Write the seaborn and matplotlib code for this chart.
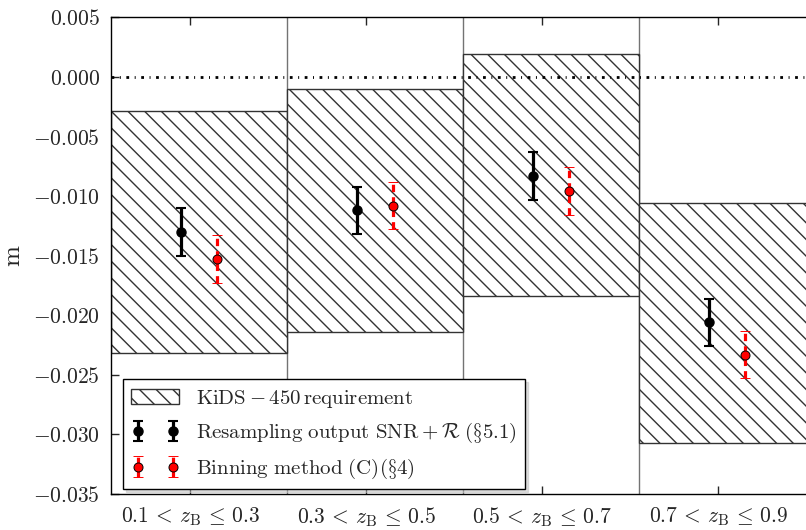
import numpy as np
import seaborn as sns
from matplotlib import pyplot as plt

# redshift bins
bin_labels = [r'$0.1 \,<\, z_{\rm B} \,\leq\, 0.3$', r'$0.3 \,<\, z_{\rm B} \,\leq\, 0.5$',
              r'$0.5 \,<\, z_{\rm B} \,\leq\, 0.7$', r'$0.7 \,<\, z_{\rm B} \,\leq\, 0.9$']

# KiDS-450 requirement band per bin
req_upper = [-0.0029, -0.00105, 0.0019, -0.0106]
req_lower = [-0.0232, -0.0214, -0.0184, -0.0307]

# resampling output SNR + R
m_resamp = [-0.0130, -0.0112, -0.0083, -0.0206]
err_resamp = [0.002, 0.002, 0.002, 0.002]

# binning method (C)
m_binning = [-0.0153, -0.0108, -0.0096, -0.0233]
err_binning = [0.002, 0.002, 0.002, 0.002]

sns.set_style('ticks')
plt.rcParams['font.family'] = 'serif'
plt.rcParams['font.serif'] = ['cmr10', 'DejaVu Serif']
plt.rcParams['mathtext.fontset'] = 'cm'
plt.rcParams['axes.formatter.use_mathtext'] = True
plt.rcParams['hatch.linewidth'] = 1.0

fig = plt.figure(figsize=(8.06, 5.30), dpi=100)
ax = fig.add_axes([0.1377, 0.0679, 0.8734, 0.8994])

idx = np.arange(len(bin_labels))
lo = np.array(req_lower)
hi = np.array(req_upper)

ax.bar(idx, hi - lo, bottom=lo, width=1.0, align='edge', color='white',
       edgecolor='0.2', linewidth=1.0, hatch='\\\\',
       label=r'$\mathrm{KiDS} - 450\,\mathrm{requirement}$', zorder=1)
for b in idx[1:]:
    ax.axvline(b, color='0.45', lw=1.0, zorder=0.5)

ax.axhline(0, color='k', lw=2, linestyle=(0, (1, 2, 0.35, 2)), zorder=2)

ax.errorbar(idx + 0.4, m_resamp, yerr=err_resamp, fmt='o', color='k',
            ms=6.5, elinewidth=2.3, capsize=3.5, capthick=1.5, zorder=4,
            label=r'$\mathrm{Resampling\ output\ SNR} + \mathcal{R}\ (\S5.1)$')
eb = ax.errorbar(idx + 0.6, m_binning, yerr=err_binning, fmt='o', color='red',
                 mec='k', mew=0.7, ms=6.5, ecolor='red', elinewidth=2.3,
                 capsize=3.5, capthick=1.0, zorder=4,
                 label=r'$\mathrm{Binning\ method\ (C)(\S4)}$')
eb[2][0].set_linestyle((0, (2.3, 1.6)))

ax.set_xlim(0, 4)
ax.set_ylim(-0.035, 0.005)
ax.set_yticks(np.arange(-0.035, 0.0051, 0.005))
ax.set_xticks(idx + 0.45)
ax.set_xticklabels(bin_labels)
ax.tick_params(axis='both', direction='in', top=True, right=True,
               length=6, width=1, labelsize=15.5, pad=8)
for s in ax.spines.values():
    s.set_linewidth(1.0)
    s.set_color('k')
ax.set_ylabel('m', fontsize=18, labelpad=6)

leg = ax.legend(loc='lower left', bbox_to_anchor=(0.017, 0.01), borderaxespad=0,
                numpoints=2, fontsize=15, fancybox=False,
                shadow={'ox': 2, 'oy': -2, 'color': '0.75'},
                framealpha=1, edgecolor='k', handlelength=2.3,
                labelspacing=0.55)
leg.get_frame().set_linewidth(1.0)

plt.savefig('out.png', dpi=100)
